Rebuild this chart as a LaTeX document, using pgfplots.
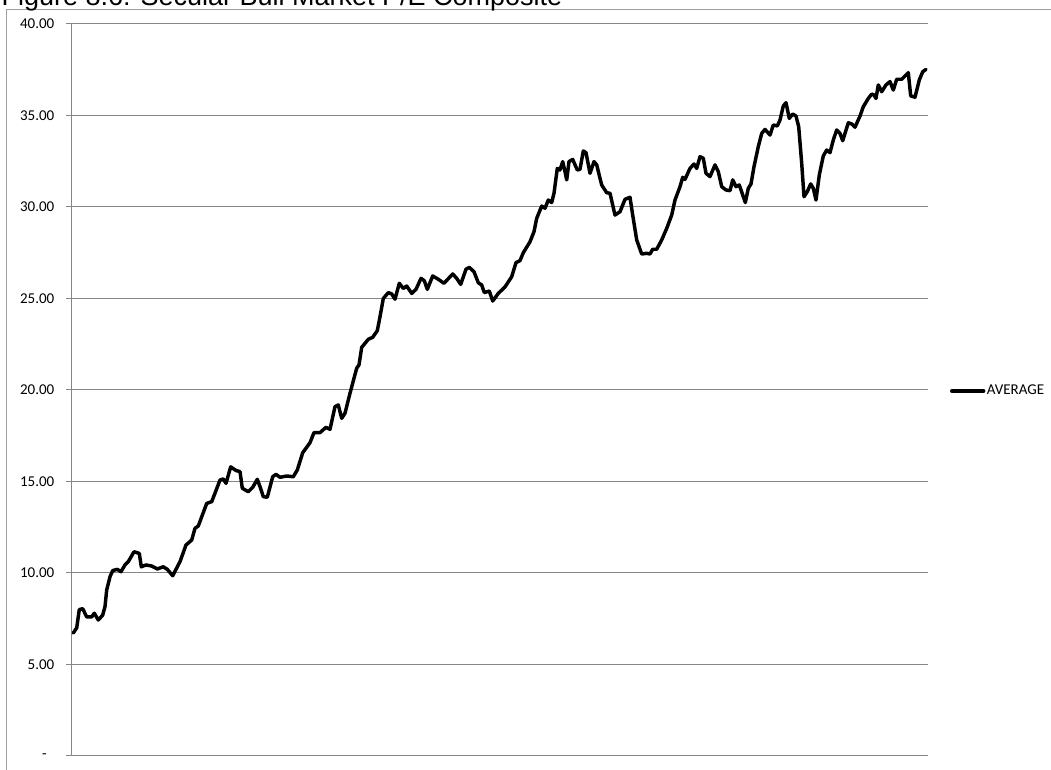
\documentclass[border=0pt]{standalone}
\usepackage{fontspec}
\setmainfont{Carlito}
\newfontfamily\titlefont{Liberation Sans}
\usepackage{pgfplots}
\pgfplotsset{compat=1.18}

\definecolor{gridgray}{RGB}{134,134,134}
\definecolor{framegray}{RGB}{160,160,160}

% P/E composite (x = position along the period)
\pgfplotstableread{
x y
1.3 6.72
4.7 7.00
7.3 8.00
10.7 8.05
14.7 7.60
19.7 7.60
22.3 7.80
26.3 7.43
30.7 7.70
33.0 8.16
34.7 9.07
38.0 9.80
40.7 10.13
45.3 10.20
49.0 10.07
53.0 10.44
56.3 10.62
62.0 11.16
67.3 11.07
69.3 10.34
74.0 10.44
79.7 10.38
85.3 10.22
91.3 10.34
95.3 10.20
100.7 9.85
108.0 10.62
114.0 11.53
119.7 11.80
123.0 12.44
126.3 12.57
134.7 13.80
139.7 13.90
143.0 14.36
148.0 15.08
151.3 15.14
154.0 14.90
158.7 15.80
164.0 15.60
168.0 15.54
170.3 14.63
176.3 14.44
180.7 14.68
185.3 15.12
188.0 14.72
191.3 14.17
195.3 14.14
200.7 15.26
204.0 15.39
208.0 15.23
214.7 15.30
221.3 15.26
225.3 15.63
230.7 16.57
234.7 16.87
238.0 17.12
242.0 17.67
248.0 17.67
254.0 17.96
258.0 17.85
263.0 19.09
266.3 19.18
269.7 18.45
273.0 18.73
278.0 19.82
284.7 21.19
287.0 21.37
289.7 22.33
296.3 22.77
300.7 22.88
305.3 23.24
308.0 24.00
311.3 25.00
316.3 25.32
319.7 25.25
323.0 24.96
327.3 25.83
331.3 25.55
334.7 25.68
339.7 25.28
344.0 25.50
349.0 26.10
352.3 25.97
355.3 25.50
360.7 26.23
366.3 26.05
372.0 25.83
380.7 26.34
384.7 26.10
388.7 25.77
394.0 26.60
397.3 26.70
402.0 26.46
406.3 25.86
409.7 25.74
412.3 25.32
417.3 25.41
420.7 24.86
426.3 25.28
433.0 25.63
439.7 26.19
444.0 26.96
448.0 27.07
451.3 27.50
458.0 28.10
462.0 28.65
464.7 29.38
469.7 30.05
473.0 29.93
476.3 30.38
479.7 30.24
482.0 30.75
485.3 32.11
488.0 32.02
490.7 32.48
493.0 31.93
494.7 31.48
497.0 32.48
500.7 32.60
505.3 32.02
508.0 32.06
511.3 33.06
514.0 32.97
518.0 31.84
522.0 32.48
524.7 32.30
529.7 31.20
534.7 30.78
538.0 30.75
543.0 29.56
548.0 29.74
553.0 30.42
558.0 30.53
560.7 29.56
564.7 28.20
569.7 27.43
574.7 27.47
578.0 27.43
580.7 27.69
584.7 27.69
589.7 28.20
594.7 28.83
599.7 29.56
603.0 30.38
608.0 31.11
610.7 31.62
613.0 31.51
618.0 32.11
622.0 32.35
624.7 32.11
628.0 32.75
631.3 32.66
634.0 31.84
638.0 31.66
643.0 32.30
646.3 31.93
649.7 31.11
654.0 30.93
658.0 30.89
660.7 31.48
664.0 31.11
667.3 31.20
670.7 30.66
673.3 30.24
676.3 31.02
679.0 31.26
682.0 32.20
686.3 33.30
689.7 34.02
693.0 34.24
698.0 33.93
701.3 34.48
705.3 34.43
708.0 34.75
711.3 35.52
714.0 35.70
717.3 34.84
720.7 35.08
724.0 34.97
726.7 34.39
729.7 32.39
732.0 30.56
735.3 30.84
738.7 31.26
741.3 31.02
744.0 30.38
747.3 31.75
751.3 32.79
754.7 33.11
758.0 32.97
761.3 33.66
764.7 34.21
768.0 34.02
770.7 33.62
773.0 34.02
776.3 34.60
779.7 34.54
783.0 34.36
788.0 34.97
791.3 35.48
796.3 35.93
799.7 36.17
802.0 36.12
804.0 35.93
806.3 36.67
809.7 36.30
814.0 36.67
818.0 36.85
821.3 36.39
824.7 36.98
829.7 36.98
834.0 37.21
836.3 37.34
838.7 36.07
843.0 36.00
847.3 36.94
850.7 37.39
854.0 37.52
}\avgdata

\begin{document}
\begin{tikzpicture}
\begin{axis}[
    scale only axis,
    width=642pt, height=549pt,
    xmin=0, xmax=856,
    ymin=0, ymax=40,
    axis x line*=bottom,
    axis y line*=left,
    axis line style={gridgray, line width=0.75pt, -},
    xtick=\empty,
    ytick={0,5,...,40},
    yticklabels={-\hphantom{0},5.00,10.00,15.00,20.00,25.00,30.00,35.00,40.00},
    ymajorgrids,
    grid style={gridgray, line width=0.75pt},
    tick align=outside,
    major tick length=4.5pt,
    tick style={gridgray, line width=0.75pt},
    yticklabel style={font=\fontsize{11.25}{13}\selectfont, text=black, xshift=-5.25pt},
    legend style={
        at={(1.0257,0.4986)}, anchor=west,
        draw=none, fill=none, inner sep=0pt, outer sep=0pt,
        font=\fontsize{11.25}{13}\selectfont,
        nodes={inner sep=1pt},
    },
    legend cell align=left,
    legend image code/.code={\draw[#1] (0pt,0pt) -- (24pt,0pt);},
]
\addplot[black, line width=2.6pt, line join=round, line cap=round] table[x=x, y=y] {\avgdata};
\addlegendentry{AVERAGE}
\end{axis}
% chart area frame and title
\draw[framegray, line width=0.75pt] (-48.75pt,-20pt) -- (-48.75pt,559.5pt) -- (750pt,559.5pt);
\node[anchor=base west, inner sep=0pt, font=\titlefont\fontsize{20.25}{24}\selectfont]
    at (-53pt,562.5pt) {Figure 8.6: Secular Bull Market P/E Composite};
\pgfresetboundingbox
\useasboundingbox (-54pt,-10.5pt) rectangle (734.25pt,567pt);
\end{tikzpicture}
\end{document}
